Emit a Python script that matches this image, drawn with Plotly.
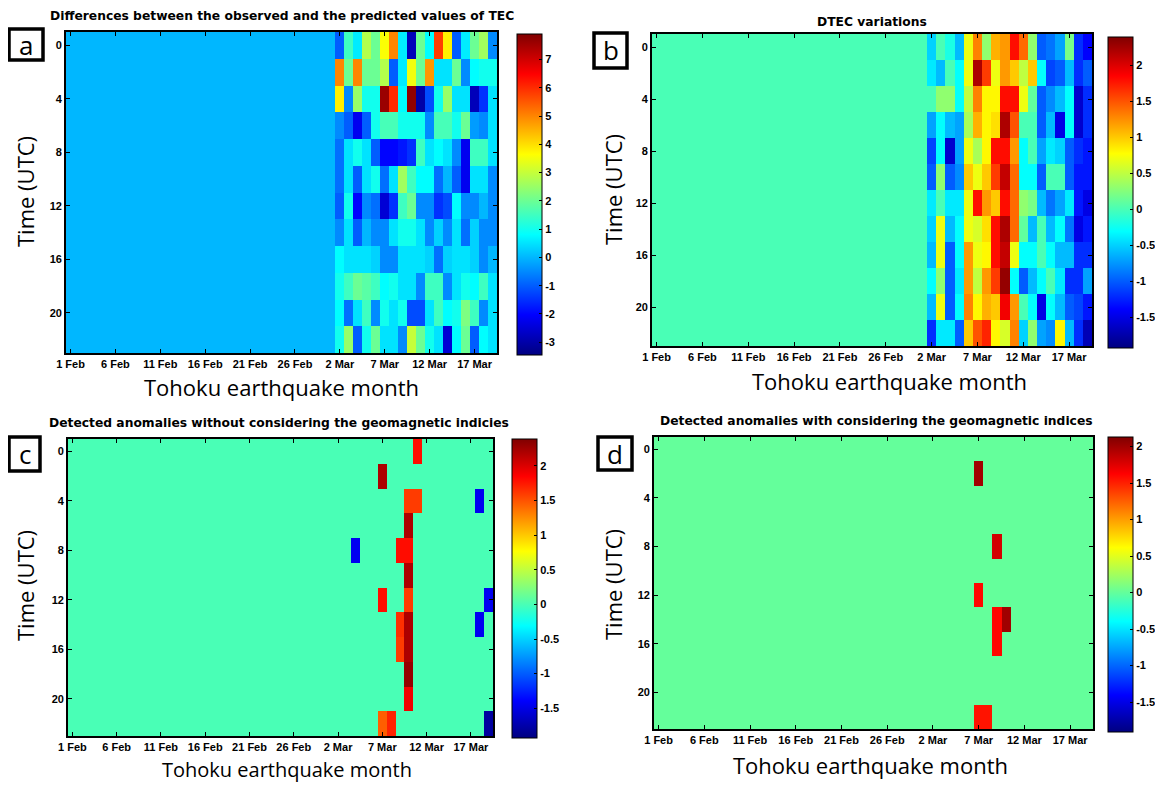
import plotly.graph_objects as go

# page body has an 8px default margin: the figure is sized to fit the window
OFF = 8
W, H = 1163 - 2 * OFF, 791 - 2 * OFF

# ---------------- data ----------------
x_tick_labels = ["1 Feb", "6 Feb", "11 Feb", "16 Feb", "21 Feb", "26 Feb",
                 "2 Mar", "7 Mar", "12 Mar", "17 Mar"]
x_tick_days = [0, 5, 10, 15, 20, 25, 30, 35, 40, 45]
hours = [0, 2, 4, 6, 8, 10, 12, 14, 16, 18, 20, 22]
hour_ticks = [0, 4, 8, 12, 16, 20]
n_flat_days = 30          # 1 Feb .. (all zero)
n_days = 48

# (a) observed - predicted TEC, March columns (18 per row)
tec_diff_march = [
    [-1.0, 1.5, 0.6, 2.8, 2.0, 3.6, 5.0, 0.6, -2.8, 2.0, 0.8, 5.8, 3.8, -1.0, 0.6, 2.0, 2.6, -0.5],
    [5.0, 2.0, 5.0, 2.0, 2.0, 2.8, -1.0, 0.6, 3.5, 2.0, 4.8, 0.5, 0.5, 2.0, -0.5, 0.8, 1.0, 1.0],
    [3.8, -0.5, 2.5, 1.0, 1.0, 7.6, 6.0, 0.8, 7.7, -3.0, -1.2, 1.0, 2.5, 0.5, 0.5, -2.8, -1.5, 0.5],
    [-0.5, -1.0, -2.2, -1.0, 1.0, 1.6, 1.6, 1.0, 1.0, 1.0, -0.5, 1.6, 1.6, 1.0, 2.0, -0.3, -0.5, 0.5],
    [-0.8, 0.5, 1.0, 0.5, -1.0, -2.0, -2.0, -1.8, -1.5, 1.5, 0.5, 0.8, 0.5, -0.5, -2.2, 1.5, 1.5, 0.5],
    [-0.8, 0.5, -1.0, 0.5, 1.0, -0.8, 0.5, 2.6, 1.5, 0.8, 0.8, -0.8, 0.0, -1.0, -2.2, 0.5, 0.5, -0.5],
    [-1.0, 1.0, -2.0, -0.5, -0.8, -2.5, -1.5, 1.5, 2.0, -0.5, -0.5, -1.5, -1.2, 0.8, -0.5, -0.5, 0.0, -0.5],
    [-0.5, 0.5, -1.0, 0.0, -0.5, -0.5, 0.5, 1.0, 1.0, 0.5, -0.5, 0.3, -0.5, 0.5, -0.8, 0.3, -0.5, -0.5],
    [0.8, 0.5, 0.5, 0.5, 0.3, -0.5, -0.5, 0.5, 0.5, 0.5, 0.3, -0.8, 0.3, 0.5, 0.5, 0.3, -0.5, 0.0],
    [1.0, 1.5, 2.0, 1.8, 1.5, 0.8, 1.0, 0.5, 0.5, -0.5, 1.5, 1.5, -0.5, 0.5, 1.0, 0.8, 1.5, 0.5],
    [0.8, -0.8, 0.5, 1.5, -0.5, 1.0, 0.5, 1.0, -1.2, -1.2, 0.5, 1.5, 0.8, 1.0, 2.2, 1.5, -0.5, 0.5],
    [1.0, 2.5, -1.0, 1.0, 2.0, 0.5, 0.5, -0.5, 3.0, 2.0, 1.0, 0.5, -2.5, 0.8, 2.0, -1.0, 0.8, 0.5],
]

# (b) DTEC variations, March columns
dtec_march = [
    [-0.5, 0.0, -0.2, -0.6, 0.7, 1.3, 0.3, 1.1, 1.2, 1.8, 1.4, 0.3, -1.0, -0.9, -0.7, 0.2, -1.2, -1.4],
    [-0.4, -0.6, 0.0, -0.3, 0.7, 2.2, 1.6, 0.7, 1.2, 1.0, 0.5, 1.0, -0.3, -1.1, -1.0, -0.6, -1.2, -1.0],
    [0.0, 0.3, 0.3, -0.3, 0.5, 1.3, 0.8, 0.8, 1.8, 1.8, 0.7, 0.1, -1.0, -0.8, -0.6, -0.3, -1.6, -1.2],
    [-0.7, -0.3, -0.6, -0.7, 0.4, 1.1, 0.8, 0.9, 2.2, 1.5, 0.0, 0.0, -1.0, -0.6, -1.5, -0.3, -1.6, -1.2],
    [-1.1, -0.3, -1.6, -0.7, 0.7, 0.4, 0.8, 1.8, 1.8, 1.2, -0.3, 0.0, -0.7, -0.4, -0.5, -1.0, -1.2, -1.3],
    [-1.0, 0.3, -1.0, -0.8, 1.0, 0.7, 1.0, 1.6, 2.1, 1.4, -0.3, -0.3, -1.0, 0.0, 0.0, -1.0, -1.3, -1.3],
    [-0.4, 0.0, -0.4, -0.4, 0.7, 1.8, 1.2, 1.0, 1.8, 1.4, 0.3, 0.2, -0.6, -0.9, -0.7, -0.4, -1.3, -1.5],
    [-0.5, 0.7, -0.6, -0.3, 0.7, 0.6, 0.9, 1.8, 2.2, 1.4, 0.1, -0.6, 0.0, -0.6, -0.3, -0.9, -1.5, -1.3],
    [-0.6, 0.7, -1.0, -0.3, 1.2, 0.7, 0.8, 1.8, 2.1, 0.7, -0.3, -0.3, 0.0, -0.3, -0.6, -0.6, -1.2, -1.2],
    [-0.3, 0.3, -1.0, -0.4, 1.2, 0.5, 1.2, 1.6, 2.3, -0.3, -1.0, -0.6, -0.3, 0.0, -0.4, -1.2, -1.2, -0.7],
    [-0.6, 0.7, -1.0, -0.3, 1.3, 0.8, 1.1, 1.0, 1.9, 1.2, 0.0, -0.3, -1.5, -0.3, -0.6, -1.0, -1.1, -1.3],
    [-1.2, -0.4, -0.4, -1.0, 1.0, 1.5, 1.7, 0.8, 0.6, 1.3, -0.5, 0.3, -0.7, -0.8, 0.8, -0.6, -1.2, -1.7],
]

# (c) anomalies without geomagnetic indices, March columns
anom_nogeo_march = [
    [0, 0, 0, 0, 0, 0, 0, 0, 0, 1.8, 0, 0, 0, 0, 0, 0, 0, 0],
    [0, 0, 0, 0, 0, 2.2, 0, 0, 0, 0, 0, 0, 0, 0, 0, 0, 0, 0],
    [0, 0, 0, 0, 0, 0, 0, 0, 1.6, 1.6, 0, 0, 0, 0, 0, 0, -1.45, 0],
    [0, 0, 0, 0, 0, 0, 0, 0, 2.2, 0, 0, 0, 0, 0, 0, 0, 0, 0],
    [0, 0, -1.45, 0, 0, 0, 0, 1.8, 1.8, 0, 0, 0, 0, 0, 0, 0, 0, 0],
    [0, 0, 0, 0, 0, 0, 0, 0, 2.2, 0, 0, 0, 0, 0, 0, 0, 0, 0],
    [0, 0, 0, 0, 0, 1.8, 0, 0, 1.6, 0, 0, 0, 0, 0, 0, 0, 0, -1.45],
    [0, 0, 0, 0, 0, 0, 0, 1.65, 2.2, 0, 0, 0, 0, 0, 0, 0, -1.45, 0],
    [0, 0, 0, 0, 0, 0, 0, 1.6, 2.2, 0, 0, 0, 0, 0, 0, 0, 0, 0],
    [0, 0, 0, 0, 0, 0, 0, 0, 2.3, 0, 0, 0, 0, 0, 0, 0, 0, 0],
    [0, 0, 0, 0, 0, 0, 0, 0, 1.9, 0, 0, 0, 0, 0, 0, 0, 0, 0],
    [0, 0, 0, 0, 0, 1.45, 1.7, 0, 0, 0, 0, 0, 0, 0, 0, 0, 0, -1.8],
]

# (d) anomalies with geomagnetic indices, March columns
anom_geo_march = [
    [0, 0, 0, 0, 0, 0, 0, 0, 0, 0, 0, 0, 0, 0, 0, 0, 0, 0],
    [0, 0, 0, 0, 0, 2.0, 0, 0, 0, 0, 0, 0, 0, 0, 0, 0, 0, 0],
    [0, 0, 0, 0, 0, 0, 0, 0, 0, 0, 0, 0, 0, 0, 0, 0, 0, 0],
    [0, 0, 0, 0, 0, 0, 0, 0, 0, 0, 0, 0, 0, 0, 0, 0, 0, 0],
    [0, 0, 0, 0, 0, 0, 0, 1.8, 0, 0, 0, 0, 0, 0, 0, 0, 0, 0],
    [0, 0, 0, 0, 0, 0, 0, 0, 0, 0, 0, 0, 0, 0, 0, 0, 0, 0],
    [0, 0, 0, 0, 0, 1.6, 0, 0, 0, 0, 0, 0, 0, 0, 0, 0, 0, 0],
    [0, 0, 0, 0, 0, 0, 0, 1.6, 2.0, 0, 0, 0, 0, 0, 0, 0, 0, 0],
    [0, 0, 0, 0, 0, 0, 0, 1.6, 0, 0, 0, 0, 0, 0, 0, 0, 0, 0],
    [0, 0, 0, 0, 0, 0, 0, 0, 0, 0, 0, 0, 0, 0, 0, 0, 0, 0],
    [0, 0, 0, 0, 0, 0, 0, 0, 0, 0, 0, 0, 0, 0, 0, 0, 0, 0],
    [0, 0, 0, 0, 0, 1.55, 1.55, 0, 0, 0, 0, 0, 0, 0, 0, 0, 0, 0],
]

cbar_ticks_a = [-3, -2, -1, 0, 1, 2, 3, 4, 5, 6, 7]
cbar_ticks_b = [-1.5, -1, -0.5, 0, 0.5, 1, 1.5, 2]

titles = [
    "Differences between the observed and the predicted values of TEC",
    "DTEC variations",
    "Detected anomalies without considering the geomagnetic indicies",
    "Detected anomalies with considering the geomagnetic indices",
]
panel_letters = ["a", "b", "c", "d"]
x_title = "Tohoku earthquake month"
y_title = "Time (UTC)"

# ---------------- styling / layout ----------------
jet = [[0.0, "rgb(0,0,128)"], [0.125, "rgb(0,0,255)"], [0.375, "rgb(0,255,255)"],
       [0.625, "rgb(255,255,0)"], [0.875, "rgb(255,0,0)"], [1.0, "rgb(128,0,0)"]]


def full_rows(march_rows):
    return [[0.0] * n_flat_days + list(r) for r in march_rows]


def fx(px):
    return (px - OFF) / W


def fy(py):
    return 1 - (py - OFF) / H


days = list(range(n_days))

panels = [
    dict(z=tec_diff_march, box=(66, 497, 32, 353), zr=(-3.45, 7.9), cticks=cbar_ticks_a,
         cbar=(517, 34, 355), title_xy=(282, 16), letter=(9, 43, 29, 60),
         ylab=(25, 192), xlab=(281, 387), xlab_size=22),
    dict(z=dtec_march, box=(652, 1092, 34, 346), zr=(-1.93, 2.39), cticks=cbar_ticks_b,
         cbar=(1108, 37, 348), title_xy=(872, 22), letter=(594, 627, 33, 68),
         ylab=(613, 190), xlab=(889, 381), xlab_size=22),
    dict(z=anom_nogeo_march, box=(68, 493, 439, 736), zr=(-1.93, 2.39), cticks=cbar_ticks_b,
         cbar=(512, 439, 738), title_xy=(279, 423), letter=(9, 40, 437, 471),
         ylab=(25, 586), xlab=(287, 769), xlab_size=20),
    dict(z=anom_geo_march, box=(654, 1093, 437, 729), zr=(-1.91, 2.13), cticks=cbar_ticks_b,
         cbar=(1108, 437, 732), title_xy=(876, 421), letter=(598, 632, 437, 470),
         ylab=(613, 585), xlab=(871, 765), xlab_size=22),
]

tickfont = dict(family="Liberation Sans", size=11, color="black", weight="bold")

fig = go.Figure()
annotations = []
shapes = []
layout = dict(width=W, height=H, margin=dict(l=0, r=0, t=0, b=0, autoexpand=False),
              paper_bgcolor="white", plot_bgcolor="white", showlegend=False)

for i, p in enumerate(panels):
    n = "" if i == 0 else str(i + 1)
    x0, x1, y0, y1 = p["box"]
    cx, cy0, cy1 = p["cbar"]
    ct = p["cticks"]
    fig.add_trace(go.Heatmap(
        x=days, y=hours, z=full_rows(p["z"]),
        colorscale=jet, zmin=p["zr"][0], zmax=p["zr"][1],
        xaxis="x" + n, yaxis="y" + n, hoverinfo="skip",
        colorbar=dict(x=fx(cx), xanchor="left", xpad=0, ypad=0,
                      y=(fy(cy0) + fy(cy1)) / 2, yanchor="middle",
                      len=(cy1 - cy0) / H, lenmode="fraction", thickness=25,
                      outlinecolor="black", outlinewidth=1,
                      tickvals=ct, ticktext=[("%g" % v) for v in ct],
                      ticks="inside", ticklen=3, tickcolor="black",
                      tickfont=tickfont),
    ))
    layout["xaxis" + n] = dict(
        domain=[fx(x0), fx(x1)], anchor="y" + n, range=[-0.5, n_days - 0.5],
        tickvals=x_tick_days, ticktext=x_tick_labels, ticks="inside", ticklen=4,
        tickcolor="black", showline=True, linecolor="black", linewidth=1.8,
        mirror="ticks", showgrid=False, zeroline=False, tickfont=tickfont,
        automargin=False, fixedrange=True)
    layout["yaxis" + n] = dict(
        domain=[fy(y1), fy(y0)], anchor="x" + n, range=[23, -1],
        tickvals=hour_ticks, ticks="inside", ticklen=4, tickcolor="black",
        showline=True, linecolor="black", linewidth=1.8, mirror="ticks",
        showgrid=False, zeroline=False, tickfont=tickfont, automargin=False,
        fixedrange=True)

    tx, ty = p["title_xy"]
    annotations.append(dict(text="<b>" + titles[i] + "</b>", x=fx(tx), y=fy(ty),
                            xref="paper", yref="paper", showarrow=False,
                            xanchor="center", yanchor="middle",
                            font=dict(family="DejaVu Sans", size=12.3, color="black")))
    lx, ly = p["xlab"]
    annotations.append(dict(text=x_title, x=fx(lx), y=fy(ly), xref="paper", yref="paper",
                            showarrow=False, xanchor="center", yanchor="middle",
                            font=dict(family="Open Sans", size=p["xlab_size"], color="black")))
    yx, yy = p["ylab"]
    annotations.append(dict(text=y_title, x=fx(yx), y=fy(yy), xref="paper", yref="paper",
                            showarrow=False, xanchor="center", yanchor="middle", textangle=-90,
                            font=dict(family="Open Sans", size=22, color="black")))
    bx0, bx1, by0, by1 = p["letter"]
    shapes.append(dict(type="rect", xref="paper", yref="paper",
                       x0=fx(bx0), x1=fx(bx1), y0=fy(by1), y1=fy(by0),
                       line=dict(color="black", width=3.5), fillcolor="white"))
    annotations.append(dict(text=panel_letters[i], x=fx((bx0 + bx1) / 2),
                            y=fy((by0 + by1) / 2), xref="paper", yref="paper",
                            showarrow=False, xanchor="center", yanchor="middle",
                            font=dict(family="Open Sans", size=26, color="black")))

layout["annotations"] = annotations
layout["shapes"] = shapes
fig.update_layout(**layout)
fig.write_html("out.html")
